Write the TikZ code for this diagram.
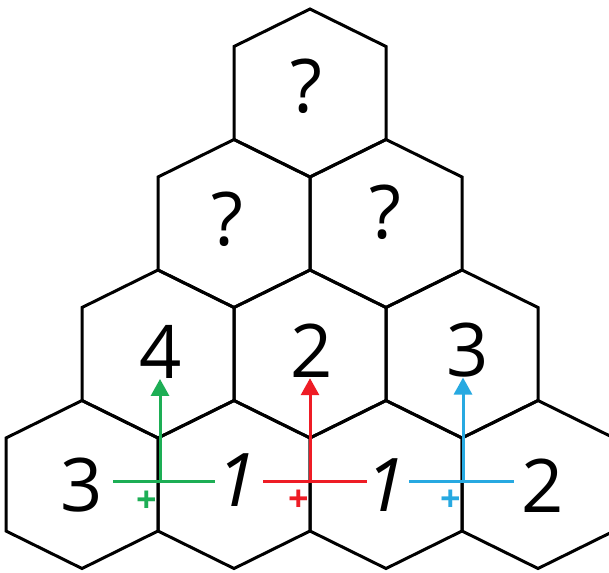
\documentclass[tikz,border=0pt]{standalone}
\usepackage{fontspec}
\setmainfont{Open Sans}
\usetikzlibrary{arrows.meta}
\definecolor{cAddL}{HTML}{1DAE55}
\definecolor{cAddM}{HTML}{EE1C25}
\definecolor{cAddR}{HTML}{27A9E1}
\tikzset{
  >={Triangle[length=8.5pt, width=9pt]},
  hexcell/.style={draw=black, line width=1.5pt, line join=miter},
  digit/.style={font=\fontsize{37}{40}\selectfont, inner sep=0pt},
  plussign/.style={text=#1, font=\fontsize{18}{20}\selectfont\bfseries, inner sep=0pt},
  addbar/.style={draw=#1, line width=1.5pt},
  addup/.style={->, draw=#1, fill=#1, line width=1.5pt},
}
\begin{document}
\begin{tikzpicture}[x=0.5pt, y=-0.5pt]
  \clip (0,0) rectangle (609,572);
  \fill[white] (0,0) rectangle (609,572);
  % honeycomb pyramid, rows from top
  \foreach \r in {0,...,3} {
    \foreach \k in {0,...,\r} {
      \pgfmathsetmacro\cx{310+152*(\k-\r/2)}
      \pgfmathsetmacro\cy{93+130.5*\r}
      \draw[hexcell] (\cx,\cy) ++(0,-84) -- ++(76,37.5) -- ++(0,93)
        -- ++(-76,37.5) -- ++(-76,-37.5) -- ++(0,-93) -- cycle;
    }
  }
  % cell entries
  \node[digit] (qtop) at (306,86)  {?};
  \node[digit] (qlft) at (227,219) {?};
  \node[digit] (qrgt) at (385,212) {?};
  \node[digit] (sumL) at (161,352) {4};
  \node[digit] (sumM) at (312,351) {2};
  \node[digit] (sumR) at (468,350) {3};
  \node[digit] (baseA) at (82,485)  {3};
  \node[digit] (baseB) at (237,480) {\itshape 1};
  \node[digit] (baseC) at (386,485) {\itshape 1};
  \node[digit] (baseD) at (543,486) {2};
  % addition crosses
  \coordinate (crossL) at (160,481);
  \coordinate (crossM) at (310,481);
  \coordinate (crossR) at (463,481);
  \draw[addbar=cAddL] ([xshift=-23.5pt]crossL) -- ([xshift=27.5pt]crossL);
  \draw[addbar=cAddM] ([xshift=-23.5pt]crossM) -- ([xshift=28.5pt]crossM);
  \draw[addbar=cAddR] ([xshift=-27pt]crossR) -- ([xshift=25.5pt]crossR);
  \draw[addup=cAddL] (crossL) -- (crossL |- sumL.south);
  \draw[addup=cAddM] (crossM) -- (crossM |- sumM.south);
  \draw[addup=cAddR] (crossR) -- (crossR |- sumR.south);
  \node[plussign=cAddL] (plusL) at (147,502) {+};
  \node[plussign=cAddM] (plusM) at (299,501) {+};
  \node[plussign=cAddR] (plusR) at (451,501) {+};
\end{tikzpicture}
\end{document}
